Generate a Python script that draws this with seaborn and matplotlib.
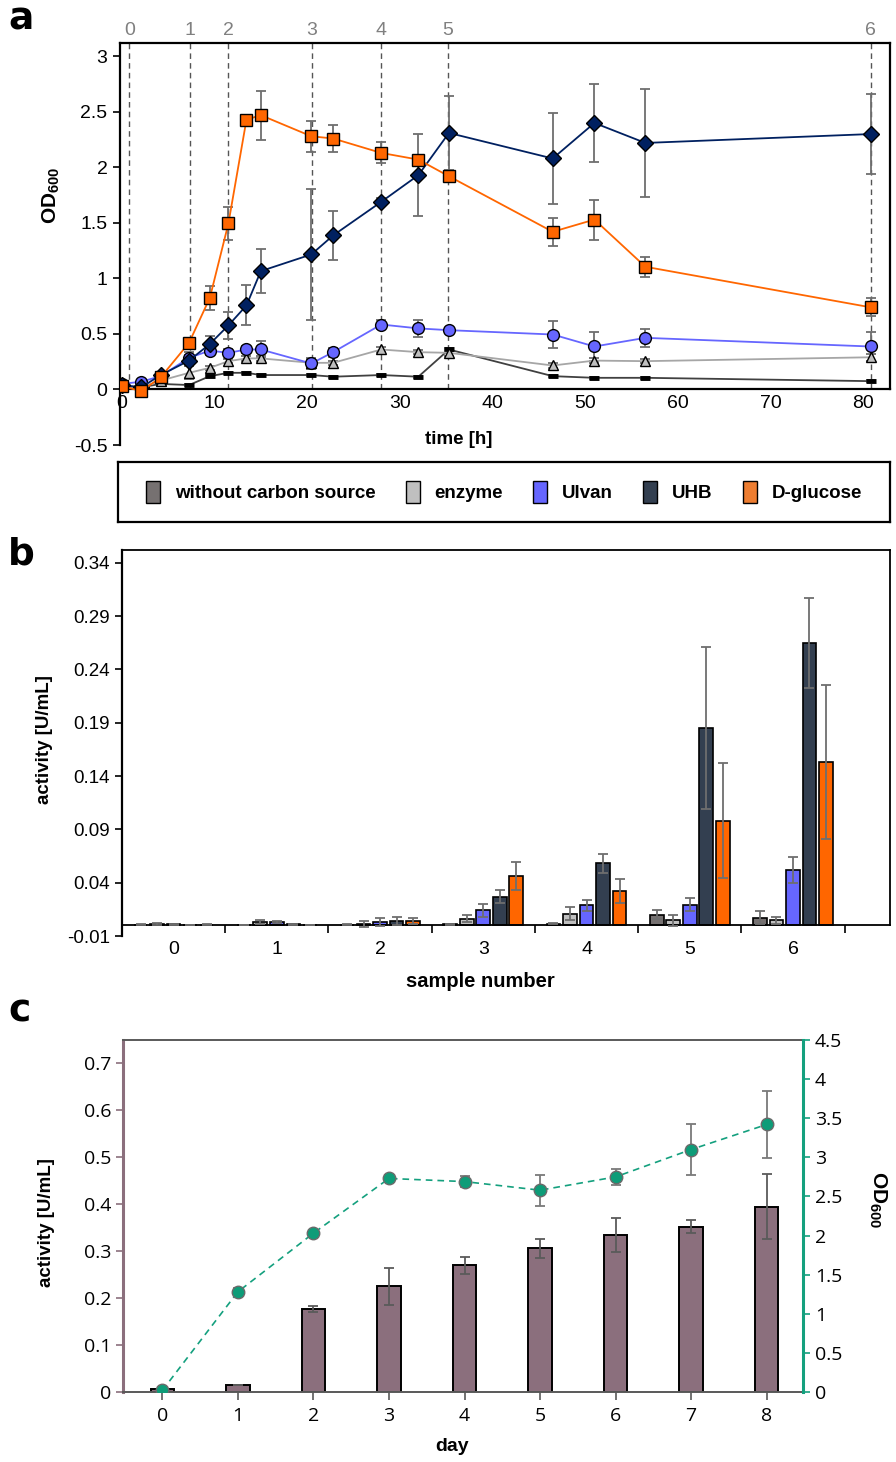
import matplotlib
matplotlib.use("Agg")
import matplotlib.pyplot as plt
import matplotlib.ticker as mticker
from matplotlib.patches import Patch
import seaborn as sns
import numpy as np
import pandas as pd

# ---------------- panel a: growth (OD600) ----------------
time_h = [0, 2.1, 4.2, 7.25, 9.5, 11.5, 13.45, 15.0, 20.45, 22.8, 28.0, 32.0, 35.3, 46.5, 51.0, 56.5, 80.8]

od_without = [0.03, 0.02, 0.05, 0.04, 0.12, 0.15, 0.15, 0.13, 0.13, 0.115, 0.13, 0.115, 0.36, 0.12, 0.105, 0.105, 0.075]
od_without_err = [0.01] * 17
od_enzyme = [0.03, 0.02, 0.08, 0.15, 0.195, 0.255, 0.28, 0.28, 0.24, 0.24, 0.36, 0.336, 0.33, 0.216, 0.26, 0.255, 0.29]
od_enzyme_err = [0.01, 0.01, 0.02, 0.06, 0.02, 0.02, 0.02, 0.02, 0.03, 0.02, 0.02, 0.02, 0.03, 0.02, 0.02, 0.02, 0.03]
od_ulvan = [0.05, 0.07, 0.12, 0.285, 0.35, 0.33, 0.36, 0.36, 0.234, 0.336, 0.585, 0.55, 0.534, 0.495, 0.387, 0.465, 0.387]
od_ulvan_err = [0.01, 0.01, 0.03, 0.05, 0.04, 0.03, 0.03, 0.08, 0.05, 0.04, 0.04, 0.08, 0.02, 0.12, 0.13, 0.08, 0.13]
od_uhb = [0.04, 0.02, 0.13, 0.26, 0.41, 0.577, 0.757, 1.066, 1.216, 1.387, 1.69, 1.93, 2.31, 2.08, 2.40, 2.22, 2.30]
od_uhb_err = [0.01, 0.01, 0.03, 0.05, 0.07, 0.12, 0.18, 0.2, 0.59, 0.22, 0.03, 0.37, 0.33, 0.41, 0.35, 0.49, 0.36]
od_glucose = [0.03, -0.015, 0.11, 0.42, 0.826, 1.495, 2.43, 2.47, 2.28, 2.26, 2.13, 2.07, 1.92, 1.42, 1.53, 1.105, 0.74]
od_glucose_err = [0.02, 0.01, 0.03, 0.04, 0.11, 0.15, 0.02, 0.22, 0.14, 0.12, 0.095, 0.03, 0.05, 0.125, 0.18, 0.09, 0.08]

sample_times = [0.8, 7.4, 11.5, 20.5, 28.0, 35.2, 80.8]
sample_labels = ["0", "1", "2", "3", "4", "5", "6"]

groups = ["without carbon source", "enzyme", "Ulvan", "UHB", "D-glucose"]
legend_colors = ["#767171", "#BFBFBF", "#6666FF", "#333F50", "#ED7D31"]

# ---------------- panel b: activity per sample ----------------
b_without = [0.0005, 0.0, 0.0005, 0.001, 0.0016, 0.010, 0.007]
b_without_err = [0.0005, 0.0, 0.0005, 0.0005, 0.0008, 0.004, 0.006]
b_enzyme = [0.0015, 0.003, 0.001, 0.0063, 0.011, 0.0047, 0.0047]
b_enzyme_err = [0.001, 0.002, 0.003, 0.003, 0.006, 0.005, 0.003]
b_ulvan = [0.001, 0.003, 0.003, 0.014, 0.0187, 0.0194, 0.052]
b_ulvan_err = [0.0005, 0.001, 0.004, 0.006, 0.005, 0.006, 0.012]
b_uhb = [0.0, 0.001, 0.004, 0.027, 0.058, 0.185, 0.265]
b_uhb_err = [0.0, 0.0005, 0.004, 0.006, 0.009, 0.076, 0.042]
b_glucose = [0.0005, 0.0, 0.004, 0.046, 0.032, 0.098, 0.153]
b_glucose_err = [0.0005, 0.0, 0.003, 0.013, 0.011, 0.054, 0.072]
bar_colors = ["#767171", "#BFBFBF", "#6666FF", "#333F50", "#FF6600"]
b_yticks = [-0.01, 0.04, 0.09, 0.14, 0.19, 0.24, 0.29, 0.34]

# ---------------- panel c: activity and OD per day ----------------
days = [0, 1, 2, 3, 4, 5, 6, 7, 8]
c_activity = [0.006, 0.014, 0.177, 0.225, 0.27, 0.306, 0.335, 0.352, 0.395]
c_activity_err = [0.0, 0.0, 0.007, 0.04, 0.018, 0.02, 0.036, 0.0135, 0.07]
c_od = [0.02, 1.28, 2.03, 2.73, 2.69, 2.58, 2.75, 3.10, 3.42]
c_od_err = [0.0, 0.05, 0.0, 0.04, 0.07, 0.2, 0.1, 0.32, 0.43]

sns.set_theme(style="white")
plt.rcParams["font.family"] = ["Liberation Sans", "DejaVu Sans"]
plt.rcParams["mathtext.fontset"] = "custom"
plt.rcParams["mathtext.rm"] = "Liberation Sans"
plt.rcParams["mathtext.bf"] = "Liberation Sans:bold"
for key in ("text.color", "axes.labelcolor", "xtick.color", "ytick.color"):
    plt.rcParams[key] = "black"

W, H = 896, 1462
fig = plt.figure(figsize=(W / 100, H / 100), dpi=100)


def box(x0, y0, x1, y1):
    return [x0 / W, 1 - y1 / H, (x1 - x0) / W, (y1 - y0) / H]


ERR = "#6e6e6e"

# ===== panel a =====
ax = fig.add_axes(box(120, 43, 890, 445))
ytop = 3.12
ax.vlines(sample_times, 0, ytop, colors="#555555", linestyles=(0, (4, 3)), linewidth=1, zorder=1)

series_a = [
    (od_without, od_without_err, "#404040", "_", 7, "black", 3.5),
    (od_enzyme, od_enzyme_err, "#A6A6A6", "^", 7.5, "#BFBFBF", 1),
    (od_ulvan, od_ulvan_err, "#6666FF", "o", 8.5, "#6666FF", 1),
    (od_uhb, od_uhb_err, "#002060", "D", 8, "#002060", 1),
    (od_glucose, od_glucose_err, "#FF6600", "s", 8.5, "#FF6600", 1),
]
for vals, errs, lc, mk, ms, fc, mew in series_a:
    ax.errorbar(time_h, vals, yerr=errs, fmt="none", ecolor=ERR, elinewidth=1.3,
                capsize=3.5, capthick=1.3, zorder=2)
    sns.lineplot(x=time_h, y=vals, ax=ax, color=lc, marker=mk, markersize=ms,
                 markerfacecolor=fc, markeredgecolor="black", markeredgewidth=mew,
                 linewidth=1.3, errorbar=None, zorder=3)

ax.set_xlim(-0.2, 82.9)
ax.set_ylim(-0.5, ytop)
ax.set_xticks([0, 10, 20, 30, 40, 50, 60, 70, 80])
ax.set_yticks([-0.5, 0, 0.5, 1, 1.5, 2, 2.5, 3])
ax.yaxis.set_major_formatter(mticker.FuncFormatter(lambda v, p: f"{v:g}"))
ax.spines["bottom"].set_position(("data", 0))
ax.spines["right"].set_bounds(0, ytop)
for s in ax.spines.values():
    s.set_color("black")
    s.set_linewidth(1.6)
ax.tick_params(axis="x", direction="in", length=5, width=1.2, labelsize=14, pad=4)
ax.tick_params(axis="y", direction="out", length=5, width=1.2, labelsize=14, pad=4, left=True)
ax.set_xlabel("time [h]", fontsize=13.5, fontweight="bold")
ax.xaxis.set_label_coords(0.44, 0.035)
ax.set_ylabel(r"$\mathbf{OD_{600}}$", fontsize=15)
ax.yaxis.set_label_coords(-0.075, 0.62)

top = ax.secondary_xaxis("top")
top.set_xticks(sample_times, labels=sample_labels)
top.tick_params(length=0, labelsize=14, labelcolor="#808080", pad=3)
top.spines["top"].set_visible(False)

# legend box
axl = fig.add_axes(box(118, 462, 890, 522))
axl.set_xticks([])
axl.set_yticks([])
for s in axl.spines.values():
    s.set_color("black")
    s.set_linewidth(1.6)
handles = [Patch(facecolor=c, edgecolor="black", label=n) for n, c in zip(groups, legend_colors)]
axl.legend(handles=handles, loc="center", ncol=5, frameon=False,
           prop={"weight": "bold", "size": 13.5}, handlelength=0.75, handleheight=1.4,
           columnspacing=1.6, handletextpad=0.8)

# ===== panel b =====
axb = fig.add_axes(box(122, 550, 890, 936))
b_vals = [b_without, b_enzyme, b_ulvan, b_uhb, b_glucose]
b_errs = [b_without_err, b_enzyme_err, b_ulvan_err, b_uhb_err, b_glucose_err]
df_b = pd.DataFrame({
    "sample": sample_labels * len(groups),
    "group": np.repeat(groups, len(sample_labels)),
    "activity": np.concatenate(b_vals),
})
sns.barplot(data=df_b, x="sample", y="activity", hue="group", hue_order=groups,
            palette=bar_colors, saturation=1, width=0.8, gap=0.17, edgecolor="black",
            linewidth=1.2, errorbar=None, legend=False, ax=axb)
for cont, errs in zip(axb.containers, b_errs):
    xs = [p.get_x() + p.get_width() / 2 for p in cont]
    ys = [p.get_height() for p in cont]
    axb.errorbar(xs, ys, yerr=errs, fmt="none", ecolor=ERR, elinewidth=1.3,
                 capsize=3.5, capthick=1.3, zorder=3)

bt = 0.352
axb.set_xlim(-0.5, 6.94)
axb.set_ylim(-0.01, bt)
axb.set_yticks(b_yticks)
axb.yaxis.set_major_formatter(mticker.FormatStrFormatter("%.2f"))
axb.spines["bottom"].set_position(("data", 0))
axb.spines["right"].set_bounds(0, bt)
for s in axb.spines.values():
    s.set_color("black")
    s.set_linewidth(1.3)
axb.spines["left"].set_linewidth(1.6)
axb.set_xticks(np.arange(0.5, 7, 1), minor=True)
axb.tick_params(axis="x", which="major", length=0, labelsize=14, pad=11)
axb.tick_params(axis="x", which="minor", direction="out", length=6, width=1.2, bottom=True)
axb.tick_params(axis="y", direction="out", length=5, width=1.2, labelsize=13.5, left=True)
axb.set_xlabel("sample number", fontsize=14.5, fontweight="bold")
axb.xaxis.set_label_coords(0.466, -0.093)
axb.set_ylabel("activity [U/mL]", fontsize=13.5, fontweight="bold")
axb.yaxis.set_label_coords(-0.09, 0.51)

# ===== panel c =====
MAUVE = "#8B6F7D"
TEAL = "#14A07E"
axc = fig.add_axes(box(123, 1040, 803, 1392))
sns.barplot(x=days, y=c_activity, color=MAUVE, saturation=1, width=0.31,
            edgecolor="black", linewidth=1.4, errorbar=None, ax=axc)
cont = axc.containers[0]
axc.errorbar([p.get_x() + p.get_width() / 2 for p in cont], [p.get_height() for p in cont],
             yerr=c_activity_err, fmt="none", ecolor="#5a5a5a", elinewidth=1.3,
             capsize=3.5, capthick=1.3, zorder=3)

ax2 = axc.twinx()
ax2.errorbar(days, c_od, yerr=c_od_err, fmt="none", ecolor="#7a7a7a", elinewidth=1.3,
             capsize=3.5, capthick=1.3, zorder=2)
sns.lineplot(x=days, y=c_od, ax=ax2, color=TEAL, linestyle=(0, (4, 3)), linewidth=1.2,
             marker="o", markersize=9, markerfacecolor="#0E9C78", markeredgecolor="#6a6a6a",
             markeredgewidth=1, errorbar=None, zorder=3)

axc.set_xlim(-0.52, 8.48)
axc.set_ylim(0, 0.75)
ax2.set_ylim(0, 4.5)
axc.set_yticks([0, 0.1, 0.2, 0.3, 0.4, 0.5, 0.6, 0.7])
ax2.set_yticks([0, 0.5, 1, 1.5, 2, 2.5, 3, 3.5, 4, 4.5])
axc.yaxis.set_major_formatter(mticker.FuncFormatter(lambda v, p: f"{v:g}"))
ax2.yaxis.set_major_formatter(mticker.FuncFormatter(lambda v, p: f"{v:g}"))

axc.spines["right"].set_visible(False)
axc.spines["left"].set_color(MAUVE)
axc.spines["left"].set_linewidth(2.2)
for k in ("top", "bottom"):
    axc.spines[k].set_color("#595959")
    axc.spines[k].set_linewidth(1.4)
for k in ("left", "top", "bottom"):
    ax2.spines[k].set_visible(False)
ax2.spines["right"].set_color(TEAL)
ax2.spines["right"].set_linewidth(2.2)

cfont = "Open Sans"
axc.tick_params(axis="x", direction="out", length=6, width=1.2, color="#595959", labelcolor="black",
                labelsize=14, pad=5, bottom=True)
axc.tick_params(axis="y", direction="out", length=5, width=1.2, color=MAUVE, labelcolor="black",
                labelsize=14, left=True)
ax2.tick_params(axis="y", direction="out", length=5, width=1.2, color=TEAL, labelcolor="black",
                labelsize=14, right=True)
for lab in axc.get_xticklabels() + axc.get_yticklabels() + ax2.get_yticklabels():
    lab.set_fontfamily(cfont)
axc.set_xlabel("day", fontsize=14, fontweight="bold")
axc.xaxis.set_label_coords(0.484, -0.13)
axc.set_ylabel("activity [U/mL]", fontsize=13.5, fontweight="bold")
axc.yaxis.set_label_coords(-0.1, 0.48)
ax2.set_ylabel(r"$\mathbf{OD_{600}}$", fontsize=15, rotation=270)
ax2.yaxis.set_label_coords(1.125, 0.545)

# panel letters
for txt, ytp in (("a", 2), ("b", 536), ("c", 994)):
    fig.text(8 / W, 1 - ytp / H, txt, fontsize=27, fontweight="bold", family="DejaVu Sans", va="top")

fig.savefig("out.png", dpi=100)
